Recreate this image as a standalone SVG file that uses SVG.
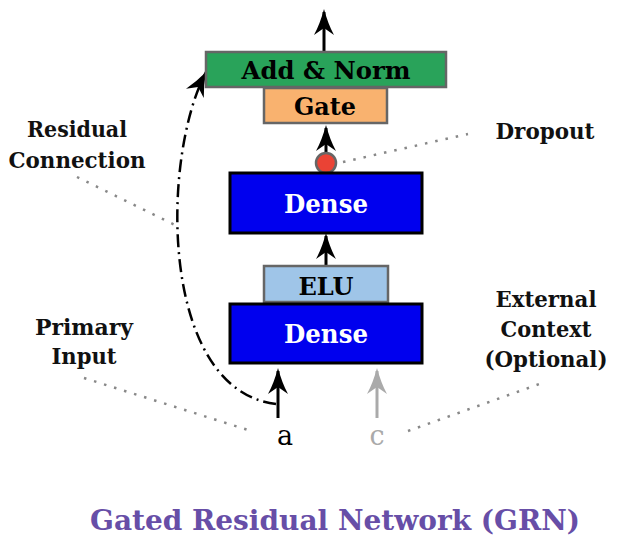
<svg xmlns="http://www.w3.org/2000/svg" width="621" height="540" viewBox="0 0 621 540">
<style>
.lbl{font-family:"DejaVu Serif","Liberation Serif",serif;font-weight:bold;font-size:22px;fill:#111;text-anchor:middle}
.nodetxt{font-family:"DejaVu Serif","Liberation Serif",serif;font-weight:bold;text-anchor:middle}
.dense{fill:#0000ee;stroke:#000;stroke-width:3}
.soft{stroke:#666;stroke-width:2.5}
.dots{fill:none;stroke:#888;stroke-width:2.5;stroke-dasharray:2.5 8}
.arr{fill:none;stroke:#000;stroke-width:3}
</style>
<defs>
<marker id="ah" viewBox="-26 -10 29 20" refX="-3" refY="0" markerWidth="29" markerHeight="20" markerUnits="userSpaceOnUse" orient="auto">
<path d="M0,0 Q-15,-4 -26,-10 L-19,0 L-26,10 Q-15,4 0,0 Z" fill="#000" stroke="none"/>
</marker>
<marker id="ahg" viewBox="-26 -10 29 20" refX="-3" refY="0" markerWidth="29" markerHeight="20" markerUnits="userSpaceOnUse" orient="auto">
<path d="M0,0 Q-15,-4 -26,-10 L-19,0 L-26,10 Q-15,4 0,0 Z" fill="#aaa" stroke="none"/>
</marker>
<marker id="ahr" viewBox="-24 -10 24 20" refX="0" refY="0" markerWidth="24" markerHeight="20" markerUnits="userSpaceOnUse" orient="auto">
<path d="M0,0 Q-13,-4 -24,-10 L-17,0 L-24,10 Q-13,4 0,0 Z" fill="#000" stroke="none"/>
</marker>
</defs>
<rect width="621" height="540" fill="#fff"/>

<g id="connectors">
<line class="arr" x1="324" y1="52" x2="324" y2="12" marker-end="url(#ah)"/>
<line class="arr" x1="326" y1="153" x2="326" y2="128" marker-end="url(#ah)"/>
<line class="arr" x1="326" y1="265" x2="326" y2="236" marker-end="url(#ah)"/>
<line class="arr" x1="278" y1="418" x2="278" y2="371" marker-end="url(#ah)"/>
<line x1="377" y1="418" x2="377" y2="371" stroke="#aaa" stroke-width="3" marker-end="url(#ahg)"/>
<path d="M276,404 C160,390 160,160 206,72" fill="none" stroke="#000" stroke-width="2.5" stroke-dasharray="13 5 2 5" marker-end="url(#ahr)"/>
<line class="dots" x1="77" y1="177" x2="175" y2="225"/>
<line class="dots" x1="343" y1="162" x2="468" y2="134"/>
<line class="dots" x1="84" y1="378" x2="248" y2="430"/>
<line class="dots" x1="408" y1="431" x2="545" y2="382"/>
</g>

<g id="add-norm">
<rect x="206" y="52" width="240" height="35" fill="#29a35a" class="soft"/>
<text class="nodetxt" x="326" y="79" font-size="25" fill="#000" textLength="169" lengthAdjust="spacingAndGlyphs">Add &amp; Norm</text>
</g>
<g id="gate">
<rect x="264" y="88" width="123" height="35" fill="#f9b26f" class="soft"/>
<text class="nodetxt" x="325" y="115" font-size="25" fill="#000" textLength="62" lengthAdjust="spacingAndGlyphs">Gate</text>
</g>
<g id="dropout">
<circle cx="326" cy="163" r="10" fill="#ea4335" stroke="#666" stroke-width="2.5"/>
</g>
<g id="dense-top">
<rect x="230" y="173" width="192" height="60" class="dense"/>
<text class="nodetxt" x="326" y="213" font-size="26" fill="#fff" textLength="84" lengthAdjust="spacingAndGlyphs">Dense</text>
</g>
<g id="elu">
<rect x="264" y="266" width="124" height="36" fill="#9fc5e8" class="soft"/>
<text class="nodetxt" x="326" y="295" font-size="24" fill="#000" textLength="55" lengthAdjust="spacingAndGlyphs">ELU</text>
</g>
<g id="dense-bottom">
<rect x="230" y="304" width="192" height="59" class="dense"/>
<text class="nodetxt" x="326" y="343" font-size="26" fill="#fff" textLength="84" lengthAdjust="spacingAndGlyphs">Dense</text>
</g>
<g id="input-a">
<text x="285" y="445" font-family="DejaVu Serif, Liberation Serif, serif" font-size="27" fill="#000" text-anchor="middle">a</text>
</g>
<g id="input-c">
<text x="377" y="445" font-family="DejaVu Serif, Liberation Serif, serif" font-size="27" fill="#aaa" text-anchor="middle">c</text>
</g>

<g id="labels">
<text class="lbl" x="77" y="137" textLength="100" lengthAdjust="spacingAndGlyphs">Residual</text>
<text class="lbl" x="77" y="168" textLength="137" lengthAdjust="spacingAndGlyphs">Connection</text>
<text class="lbl" x="545" y="139" textLength="99" lengthAdjust="spacingAndGlyphs">Dropout</text>
<text class="lbl" x="546" y="307" textLength="101" lengthAdjust="spacingAndGlyphs">External</text>
<text class="lbl" x="546" y="337" textLength="91" lengthAdjust="spacingAndGlyphs">Context</text>
<text class="lbl" x="546" y="367" textLength="123" lengthAdjust="spacingAndGlyphs">(Optional)</text>
<text class="lbl" x="84" y="335" textLength="98" lengthAdjust="spacingAndGlyphs">Primary</text>
<text class="lbl" x="84" y="364" textLength="65" lengthAdjust="spacingAndGlyphs">Input</text>
</g>
<g id="title">
<text x="335" y="530" font-family="DejaVu Serif, Liberation Serif, serif" font-weight="bold" font-size="28" fill="#674ea7" text-anchor="middle" textLength="490" lengthAdjust="spacingAndGlyphs">Gated Residual Network (GRN)</text>
</g>
</svg>
